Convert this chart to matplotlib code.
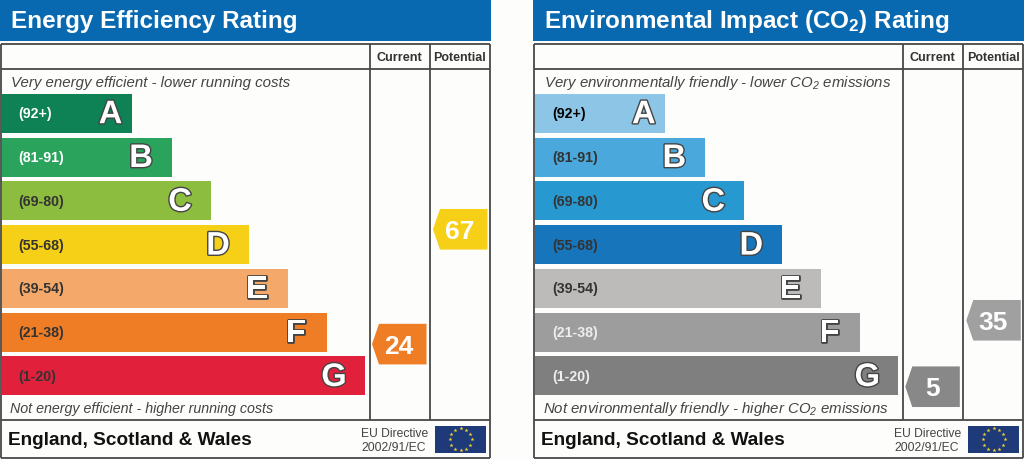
import numpy as np
import matplotlib
matplotlib.use('Agg')
import matplotlib.pyplot as plt
import matplotlib.patheffects as pe
from matplotlib.patches import Polygon, Rectangle

plt.rcParams['font.family'] = 'Liberation Sans'
plt.rcParams['mathtext.default'] = 'regular'

# chart values
letters = ['A', 'B', 'C', 'D', 'E', 'F', 'G']
ranges = ['(92+)', '(81-91)', '(69-80)', '(55-68)', '(39-54)', '(21-38)', '(1-20)']
band_tops = [92, 81, 69, 55, 39, 21, 1]
band_bottoms = [100, 91, 80, 68, 54, 38, 20]
bar_lengths = [130, 170, 209, 247, 286, 325, 363]

energy_title = 'Energy Efficiency Rating'
energy_top = 'Very energy efficient - lower running costs'
energy_bottom = 'Not energy efficient - higher running costs'
energy_current = 24
energy_potential = 67
energy_colors = ['#0e8254', '#2aa35c', '#8dbd3f', '#f6d017', '#f4a96b', '#ee7d26', '#e1213c']
energy_label_colors = ['white', 'white', '#333333', '#333333', '#333333', '#333333', '#333333']
energy_current_color = '#ee7d26'
energy_potential_color = '#f6d017'

co2_title = 'Environmental Impact (CO$_2$) Rating'
co2_top = 'Very environmentally friendly - lower CO$_2$ emissions'
co2_bottom = 'Not environmentally friendly - higher CO$_2$ emissions'
co2_current = 5
co2_potential = 35
co2_colors = ['#8cc5e6', '#4aa8dc', '#2898d0', '#1775bc', '#bcbbb9', '#9d9d9d', '#7f7f7f']
co2_label_colors = ['black', '#333333', '#333333', '#333333', '#333333', '#eeeeee', '#eeeeee']
co2_current_color = '#888888'
co2_potential_color = '#a0a0a0'

header_blue = '#0869b0'
line_color = '#484848'
bar_top = 94.7
bar_pitch = 43.8
bar_height = 39.0

fig = plt.figure(figsize=(10.24, 4.6), dpi=100, facecolor='#fdfdfc')
ax = fig.add_axes([0, 0, 1, 1])
ax.set_xlim(0, 1024)
ax.set_ylim(460, 0)
ax.axis('off')


def rating_to_y(rating):
    # each band covers its own score range, so the scale is piecewise
    tops = [bar_top + bar_pitch * i for i in range(7)]
    ys, scores = [], []
    for i in range(6, -1, -1):
        ys += [tops[i] + bar_height, tops[i]]
        scores += [band_tops[i] - 0.5, band_bottoms[i] + 0.5]
    return np.interp(rating, scores, ys)


def pointer(x0, rating, color):
    y = rating_to_y(rating)
    pts = [(x0, y), (x0 + 7, y - 20.3), (x0 + 54.5, y - 20.3), (x0 + 54.5, y + 20.3), (x0 + 7, y + 20.3)]
    ax.add_patch(Polygon(pts, closed=True, facecolor=color, edgecolor='none', zorder=3))
    ax.text(x0 + 27, y + 1.5, str(rating), color='white', fontsize=19, fontweight='bold',
            ha='center', va='center', zorder=4)


def draw_panel(off, right, title, top_text, bottom_text, bottom_size, colors, label_colors,
               current, potential, current_color, potential_color):
    ax.add_patch(Rectangle((off, 0), right - off, 41.5, facecolor=header_blue, edgecolor='none'))
    ax.text(off + 11, 21.5, title, color='white', fontsize=17.5, fontweight='bold', va='center')

    # table frame
    for y in [45, 69.5, 420.5, 458.5]:
        ax.plot([off + 1, off + 490], [y, y], color=line_color, lw=1.3, solid_capstyle='butt')
    for x in [off + 1, off + 490]:
        ax.plot([x, x], [45, 458.5], color=line_color, lw=1.3, solid_capstyle='butt')
    for x in [off + 370, off + 430]:
        ax.plot([x, x], [45, 420.5], color=line_color, lw=1.3, solid_capstyle='butt')

    ax.text(off + 399, 58, 'Current', color='#333333', fontsize=9.1, fontweight='bold', ha='center', va='center')
    ax.text(off + 460, 58, 'Potential', color='#333333', fontsize=9.0, fontweight='bold', ha='center', va='center')
    ax.text(off + 11, 82.5, top_text, color='#444444', fontsize=10.85, style='italic', va='center')
    ax.text(off + 10, 409.5, bottom_text, color='#444444', fontsize=bottom_size, style='italic', va='center')

    ys = [bar_top + bar_pitch * i + bar_height / 2 for i in range(7)]
    ax.barh(ys, bar_lengths, height=bar_height, left=off + 2, color=colors, edgecolor='none', zorder=2)
    for i in range(7):
        gap = 21.5 if i == 0 else 31
        ax.text(off + 2 + bar_lengths[i] - gap, ys[i] + 1.5, letters[i], color='white', fontsize=23.5,
                fontweight='bold', ha='center', va='center', zorder=3,
                path_effects=[pe.withStroke(linewidth=2, foreground='#444444')])
        ax.text(off + 18.5, ys[i], ranges[i], color=label_colors[i], fontsize=10.2, fontweight='bold',
                va='center', zorder=3)

    pointer(off + 372, current, current_color)
    pointer(off + 433, potential, potential_color)

    # footer
    ax.text(off + 8, 440.5, 'England, Scotland & Wales', color='#111111', fontsize=13.65, fontweight='bold', va='center')
    ax.text(off + 361, 434, 'EU Directive', color='#444444', fontsize=8.7, va='center')
    ax.text(off + 361, 448, '2002/91/EC', color='#444444', fontsize=8.7, va='center')
    ax.add_patch(Rectangle((off + 435, 426.5), 51, 27.5, facecolor='#1f3a78', edgecolor='none'))
    angles = np.arange(12) * np.pi / 6
    ax.scatter(off + 460.5 + 11 * np.cos(angles), 440.2 + 11 * np.sin(angles), marker='*', s=9,
               color='#f4d531', linewidths=0, zorder=3)


draw_panel(0, 491, energy_title, energy_top, energy_bottom, 10.3, energy_colors, energy_label_colors,
           energy_current, energy_potential, energy_current_color, energy_potential_color)
draw_panel(533.3, 1024, co2_title, co2_top, co2_bottom, 10.8, co2_colors, co2_label_colors,
           co2_current, co2_potential, co2_current_color, co2_potential_color)

fig.savefig('out.png', dpi=100, facecolor=fig.get_facecolor())
